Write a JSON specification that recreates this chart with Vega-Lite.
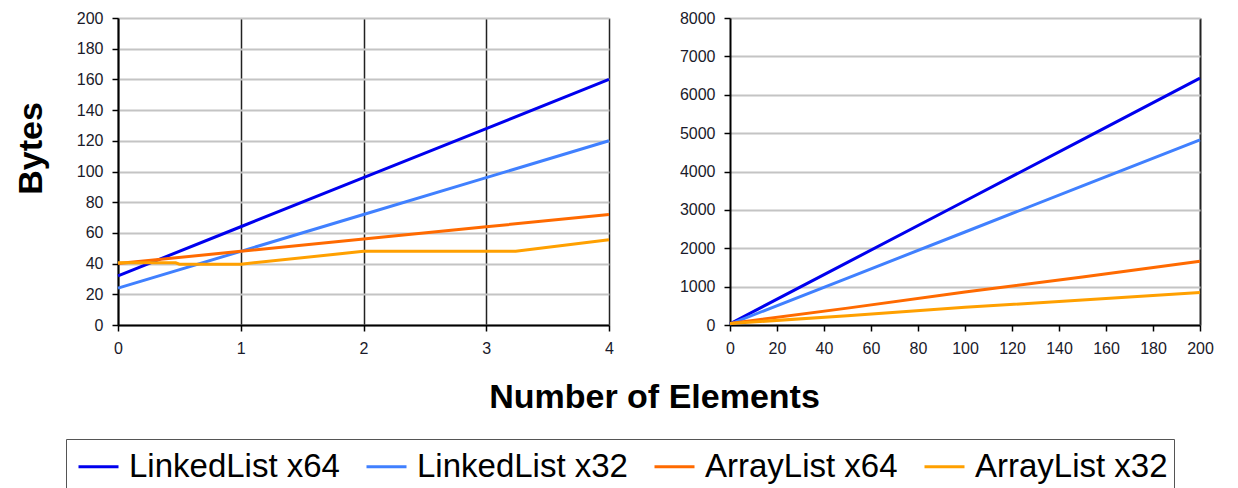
{
  "$schema": "https://vega.github.io/schema/vega-lite/v6.json",
  "background": "white",
  "padding": {"left": 14, "top": 10, "right": 0, "bottom": 0},
  "bounds": "flush",
  "spacing": 121,
  "config": {
    "font": "Liberation Sans",
    "view": {"stroke": null},
    "axis": {
      "labelFont": "Liberation Sans",
      "labelFontSize": 16,
      "labelColor": "#1a1a2a",
      "labelPadding": 9,
      "labelFlush": false,
      "labelOverlap": false,
      "tickColor": "black",
      "tickSize": 6,
      "tickWidth": 1.5,
      "domainColor": "black",
      "domainWidth": 2,
      "gridColor": "#c4c4c4",
      "gridWidth": 2,
      "titleFont": "Liberation Sans",
      "titleFontSize": 34,
      "titleFontWeight": "bold",
      "titleColor": "black"
    },
    "legend": {
      "labelFont": "Liberation Sans",
      "labelFontSize": 33,
      "labelColor": "black",
      "labelLimit": 1000
    }
  },
  "datasets": {
    "small": [
      {"series": "LinkedList x64", "n": 0, "bytes": 32},
      {"series": "LinkedList x64", "n": 1, "bytes": 64},
      {"series": "LinkedList x64", "n": 2, "bytes": 96},
      {"series": "LinkedList x64", "n": 3, "bytes": 128},
      {"series": "LinkedList x64", "n": 4, "bytes": 160},
      {"series": "LinkedList x32", "n": 0, "bytes": 24},
      {"series": "LinkedList x32", "n": 1, "bytes": 48},
      {"series": "LinkedList x32", "n": 2, "bytes": 72},
      {"series": "LinkedList x32", "n": 3, "bytes": 96},
      {"series": "LinkedList x32", "n": 4, "bytes": 120},
      {"series": "ArrayList x64", "n": 0, "bytes": 40},
      {"series": "ArrayList x64", "n": 1, "bytes": 48},
      {"series": "ArrayList x64", "n": 2, "bytes": 56},
      {"series": "ArrayList x64", "n": 3, "bytes": 64},
      {"series": "ArrayList x64", "n": 4, "bytes": 72},
      {"series": "ArrayList x32", "n": 0, "bytes": 40.5},
      {"series": "ArrayList x32", "n": 0.47, "bytes": 40.5},
      {"series": "ArrayList x32", "n": 0.5, "bytes": 39.6},
      {"series": "ArrayList x32", "n": 1, "bytes": 39.6},
      {"series": "ArrayList x32", "n": 2, "bytes": 48},
      {"series": "ArrayList x32", "n": 3.24, "bytes": 48},
      {"series": "ArrayList x32", "n": 4, "bytes": 55.5}
    ],
    "large": [
      {"series": "LinkedList x64", "n": 0, "bytes": 32},
      {"series": "LinkedList x64", "n": 50, "bytes": 1632},
      {"series": "LinkedList x64", "n": 100, "bytes": 3232},
      {"series": "LinkedList x64", "n": 150, "bytes": 4832},
      {"series": "LinkedList x64", "n": 200, "bytes": 6432},
      {"series": "LinkedList x32", "n": 0, "bytes": 24},
      {"series": "LinkedList x32", "n": 50, "bytes": 1224},
      {"series": "LinkedList x32", "n": 100, "bytes": 2424},
      {"series": "LinkedList x32", "n": 150, "bytes": 3624},
      {"series": "LinkedList x32", "n": 200, "bytes": 4824},
      {"series": "ArrayList x64", "n": 0, "bytes": 40},
      {"series": "ArrayList x64", "n": 50, "bytes": 440},
      {"series": "ArrayList x64", "n": 100, "bytes": 860},
      {"series": "ArrayList x64", "n": 150, "bytes": 1250},
      {"series": "ArrayList x64", "n": 200, "bytes": 1660},
      {"series": "ArrayList x32", "n": 0, "bytes": 40},
      {"series": "ArrayList x32", "n": 50, "bytes": 240},
      {"series": "ArrayList x32", "n": 100, "bytes": 460},
      {"series": "ArrayList x32", "n": 150, "bytes": 650},
      {"series": "ArrayList x32", "n": 200, "bytes": 850}
    ]
  },
  "resolve": {"scale": {"color": "shared"}},
  "hconcat": [
    {
      "width": 491,
      "height": 307,
      "data": {"name": "small"},
      "mark": {"type": "line", "strokeWidth": 3},
      "encoding": {
        "x": {
          "field": "n",
          "type": "quantitative",
          "scale": {"domain": [0, 4], "nice": false, "zero": false},
          "axis": {
            "values": [0, 1, 2, 3, 4],
            "format": "d",
            "grid": true,
            "gridColor": "#222222",
            "gridWidth": 1.5,
            "title": "Number of Elements",
            "titleX": 536,
            "titleY": 82,
            "titleBaseline": "alphabetic",
            "titleAlign": "center"
          }
        },
        "y": {
          "field": "bytes",
          "type": "quantitative",
          "scale": {"domain": [0, 200], "nice": false},
          "axis": {
            "values": [0, 20, 40, 60, 80, 100, 120, 140, 160, 180, 200],
            "format": "d",
            "grid": true,
            "title": "Bytes",
            "titlePadding": 28,
            "titleY": 130
          }
        },
        "color": {
          "field": "series",
          "type": "nominal",
          "scale": {
            "domain": ["LinkedList x64", "LinkedList x32", "ArrayList x64", "ArrayList x32"],
            "range": ["#0000ee", "#4080ff", "#ff6a00", "#ffa000"]
          },
          "legend": {
            "title": null,
            "orient": "none",
            "legendX": -52,
            "legendY": 421,
            "direction": "horizontal",
            "columns": 4,
            "symbolType": "stroke",
            "symbolSize": 1600,
            "symbolStrokeWidth": 3,
            "symbolOffset": 5,
            "labelOffset": 9,
            "columnPadding": 20,
            "padding": 6,
            "strokeColor": "#555555"
          }
        }
      }
    },
    {
      "width": 470,
      "height": 307,
      "data": {"name": "large"},
      "mark": {"type": "line", "strokeWidth": 3},
      "encoding": {
        "x": {
          "field": "n",
          "type": "quantitative",
          "scale": {"domain": [0, 200], "nice": false},
          "axis": {
            "values": [0, 20, 40, 60, 80, 100, 120, 140, 160, 180, 200],
            "format": "d",
            "grid": true,
            "gridColor": "#222222",
            "gridWidth": 2,
            "gridOpacity": {"condition": {"test": "datum.value === 200", "value": 1}, "value": 0},
            "title": null
          }
        },
        "y": {
          "field": "bytes",
          "type": "quantitative",
          "scale": {"domain": [0, 8000], "nice": false},
          "axis": {
            "values": [0, 1000, 2000, 3000, 4000, 5000, 6000, 7000, 8000],
            "format": "d",
            "grid": true,
            "title": null
          }
        },
        "color": {"field": "series", "type": "nominal", "legend": null}
      }
    }
  ]
}
